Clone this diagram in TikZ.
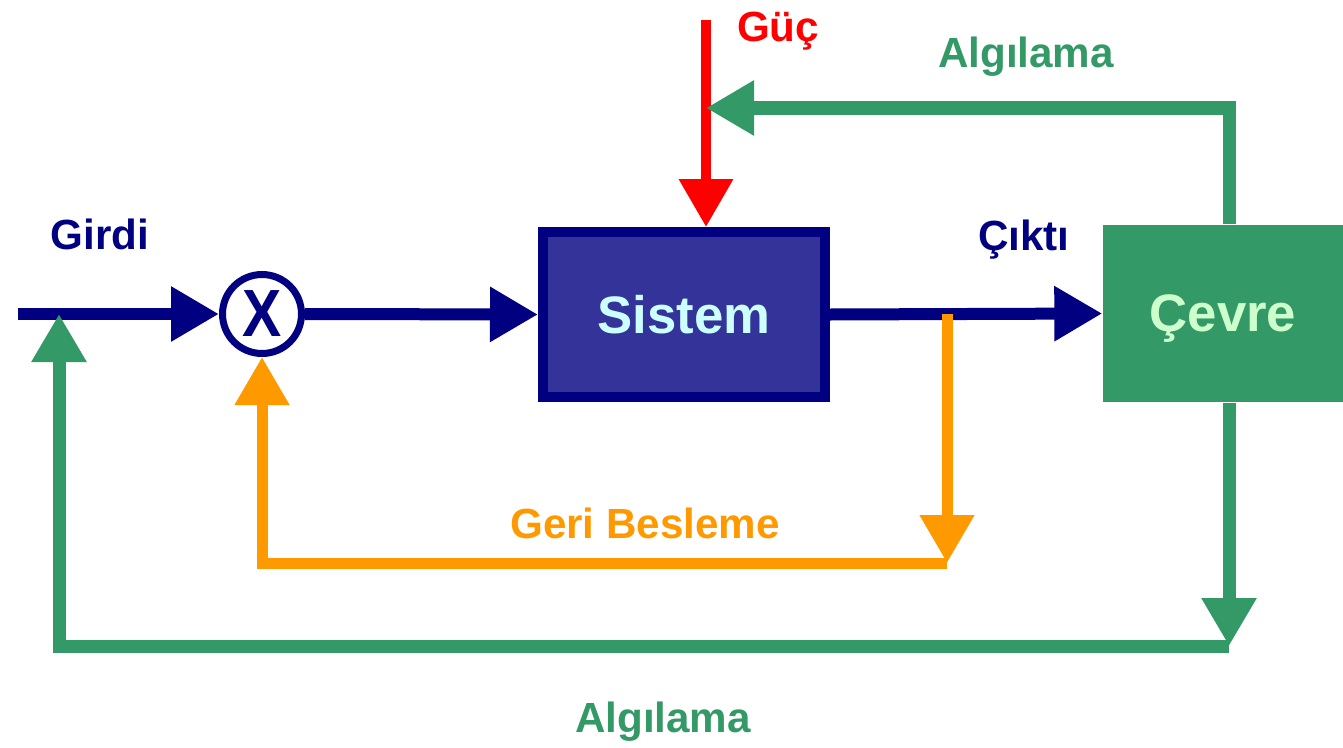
\documentclass[tikz,border=0pt]{standalone}
\usepackage{fontspec}
\usepackage{graphicx}
\setmainfont{Liberation Sans}
\usetikzlibrary{arrows.meta,positioning}
\definecolor{navyline}{HTML}{000080}
\definecolor{sysfill}{HTML}{333399}
\definecolor{envgreen}{HTML}{339966}
\definecolor{fborange}{HTML}{FF9900}
\definecolor{powerred}{HTML}{FF0000}
\definecolor{systext}{HTML}{CCFFFF}
\definecolor{envtext}{HTML}{CCFFCC}
\tikzset{
	bigtip/.style={-{Triangle[length=0.48cm,width=0.52cm]}},
	signal/.style={draw=navyline, line width=0.12cm, bigtip},
	power/.style={draw=powerred, line width=0.10cm, bigtip},
	feedback/.style={draw=fborange, line width=0.11cm},
	sensing/.style={draw=envgreen, line width=0.13cm},
	label/.style={font=\bfseries\fontsize{12}{14}\selectfont, inner sep=0pt, anchor=base},
	sysbox/.style={draw=navyline, fill=sysfill, line width=0.10cm, minimum width=2.82cm, minimum height=1.65cm, text=systext, font=\bfseries\fontsize{15}{18}\selectfont},
	envbox/.style={fill=envgreen, minimum width=2.40cm, minimum height=1.77cm, text=envtext, text depth=0pt, font=\bfseries\fontsize{15}{18}\selectfont},
	mixer/.style={circle, draw=navyline, fill=white, line width=0.07cm, minimum size=0.79cm, inner sep=0pt, font=\bfseries\fontsize{19}{21}\selectfont, text=navyline}
}

\begin{document}
\begin{tikzpicture}
			%%%%% START %%%%%
			\useasboundingbox (0, 0) rectangle (13.43, 7.47);
			
			\node[mixer] (mix) at (2.62, 4.33) {\scalebox{0.88}[1]{X}};
			\node[sysbox] (sistem) at (6.84, 4.325) {Sistem};
			\node[envbox] (cevre) at (12.23, 4.335) {Çevre};
			
			\coordinate (in) at (0.18, 4.33);
			\coordinate (gucstart) at (7.06, 7.27);
			\coordinate (branch) at (9.47, 4.33);
			\coordinate (fbright) at (9.47, 1.84);
			\coordinate (fbleft) at (2.62, 1.84);
			\coordinate (topright) at (12.29, 6.39);
			\coordinate (topleft) at (7.06, 6.39);
			\coordinate (botright) at (12.29, 1.01);
			\coordinate (botleft) at (0.59, 1.01);
			\coordinate (intip) at (0.59, 4.33);
			
			% main signal path
			\draw[signal] (in) -- (mix.west);
			\draw[signal] (mix.east) -- (sistem.west);
			\draw[signal] (sistem.east) -- (cevre.west);
			
			% power
			\draw[power] (gucstart) -- (gucstart |- sistem.north);
			
			% feedback
			\draw[feedback, bigtip] (branch) -- (fbright);
			\draw[feedback, bigtip] (fbright) -- (fbleft) -- (mix.south);
			
			% sensing, top and bottom
			\draw[sensing, bigtip] (topright |- cevre.north) -- (topright) -- (topleft);
			\draw[sensing, bigtip] (botright |- cevre.south) -- (botright);
			\draw[sensing, bigtip] (botright) -- (botleft) -- (intip);
			
			\node[label, text=navyline] (girdi) at (1.00, 4.98) {Girdi};
			\node[label, text=powerred] (guc) at (7.78, 7.05) {Güç};
			\node[label, text=envgreen] (algtop) at (10.26, 6.80) {Algılama};
			\node[label, text=navyline] (cikti) at (10.24, 4.97) {Çıktı};
			\node[label, text=fborange] (geri) at (6.45, 2.09) {Geri Besleme};
			\node[label, text=envgreen] (algbot) at (6.63, 0.15) {Algılama};
			%%%%% END %%%%%
		\end{tikzpicture}
\end{document}
